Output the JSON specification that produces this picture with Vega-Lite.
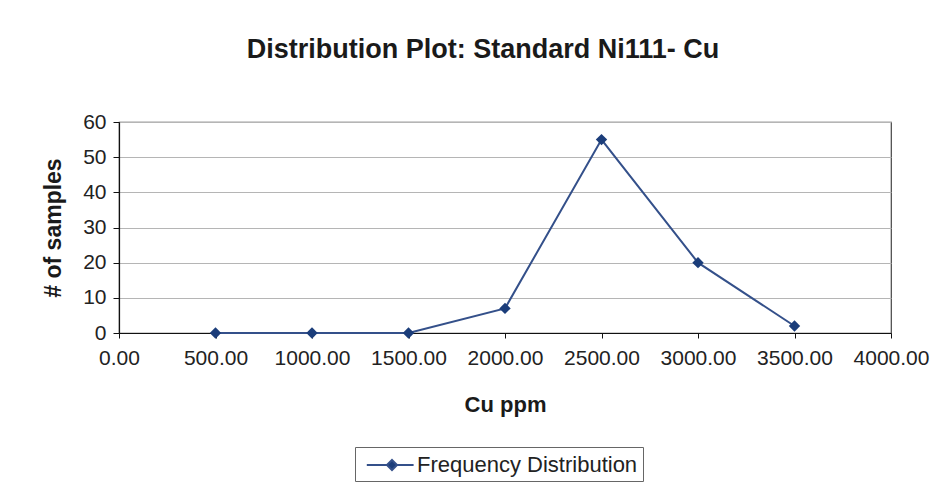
{
  "$schema": "https://vega.github.io/schema/vega-lite/v6.json",
  "autosize": "none",
  "width": 772,
  "height": 211,
  "padding": {"left": 119, "top": 122, "right": 61, "bottom": 163},
  "background": "#ffffff",
  "title": {
    "text": "Distribution Plot: Standard Ni111- Cu",
    "font": "Liberation Sans",
    "fontSize": 27,
    "fontWeight": "bold",
    "color": "#1a1a1a",
    "anchor": "middle",
    "baseline": "alphabetic",
    "offset": 26,
    "dx": -22
  },
  "config": {
    "font": "Liberation Sans",
    "view": {"stroke": "#444444", "strokeWidth": 1.2}
  },
  "data": {
    "values": [
      {"cu": 500, "count": 0, "series": "Frequency Distribution"},
      {"cu": 1000, "count": 0, "series": "Frequency Distribution"},
      {"cu": 1500, "count": 0, "series": "Frequency Distribution"},
      {"cu": 2000, "count": 7, "series": "Frequency Distribution"},
      {"cu": 2500, "count": 55, "series": "Frequency Distribution"},
      {"cu": 3000, "count": 20, "series": "Frequency Distribution"},
      {"cu": 3500, "count": 2, "series": "Frequency Distribution"}
    ]
  },
  "encoding": {
    "x": {
      "field": "cu",
      "type": "quantitative",
      "scale": {"domain": [0, 4000], "nice": false, "zero": true},
      "axis": {
        "title": "Cu ppm",
        "values": [0, 500, 1000, 1500, 2000, 2500, 3000, 3500, 4000],
        "format": ".2f",
        "grid": false,
        "domainColor": "#111111",
        "domainWidth": 1.2,
        "tickColor": "#111111",
        "tickSize": 5,
        "labelFont": "Liberation Sans",
        "labelFontSize": 21,
        "labelColor": "#222222",
        "labelPadding": 9,
        "labelFlush": false,
        "titleFont": "Liberation Sans",
        "titleFontSize": 22,
        "titleFontWeight": "bold",
        "titleColor": "#1a1a1a",
        "titlePadding": 26
      }
    },
    "y": {
      "field": "count",
      "type": "quantitative",
      "scale": {"domain": [0, 60], "nice": false},
      "axis": {
        "title": "# of samples",
        "values": [0, 10, 20, 30, 40, 50, 60],
        "grid": true,
        "gridColor": "#b5b5b5",
        "gridWidth": 1,
        "domainColor": "#111111",
        "domainWidth": 1.2,
        "tickColor": "#111111",
        "tickSize": 6,
        "labelFont": "Liberation Sans",
        "labelFontSize": 21,
        "labelColor": "#222222",
        "labelPadding": 7,
        "titleFont": "Liberation Sans",
        "titleFontSize": 23,
        "titleFontWeight": "bold",
        "titleColor": "#1a1a1a",
        "titlePadding": 17
      }
    }
  },
  "layer": [
    {
      "mark": {"type": "line", "strokeWidth": 2},
      "encoding": {
        "color": {
          "field": "series",
          "type": "nominal",
          "scale": {"range": ["#34508a"]},
          "legend": {
            "title": null,
            "orient": "none",
            "legendX": 236,
            "legendY": 325,
            "direction": "horizontal",
            "strokeColor": "#666666",
            "padding": 5,
            "symbolType": "M-2.1,0H-0.42M0.42,0H1.8M0,-0.42L0.42,0L0,0.42L-0.42,0Z",
            "symbolSize": 576,
            "symbolOffset": 19,
            "symbolStrokeWidth": 2,
            "labelFont": "Liberation Sans",
            "labelFontSize": 22,
            "labelColor": "#222222",
            "labelLimit": 400,
            "labelOffset": 12,
            "encode": {
              "symbols": {"update": {"fill": {"value": "#1b3d7a"}, "stroke": {"value": "#34508a"}, "strokeWidth": {"value": 2}}}
            }
          }
        }
      }
    },
    {
      "mark": {"type": "point", "shape": "diamond", "filled": true, "size": 130, "color": "#1b3d7a", "opacity": 1}
    }
  ]
}
